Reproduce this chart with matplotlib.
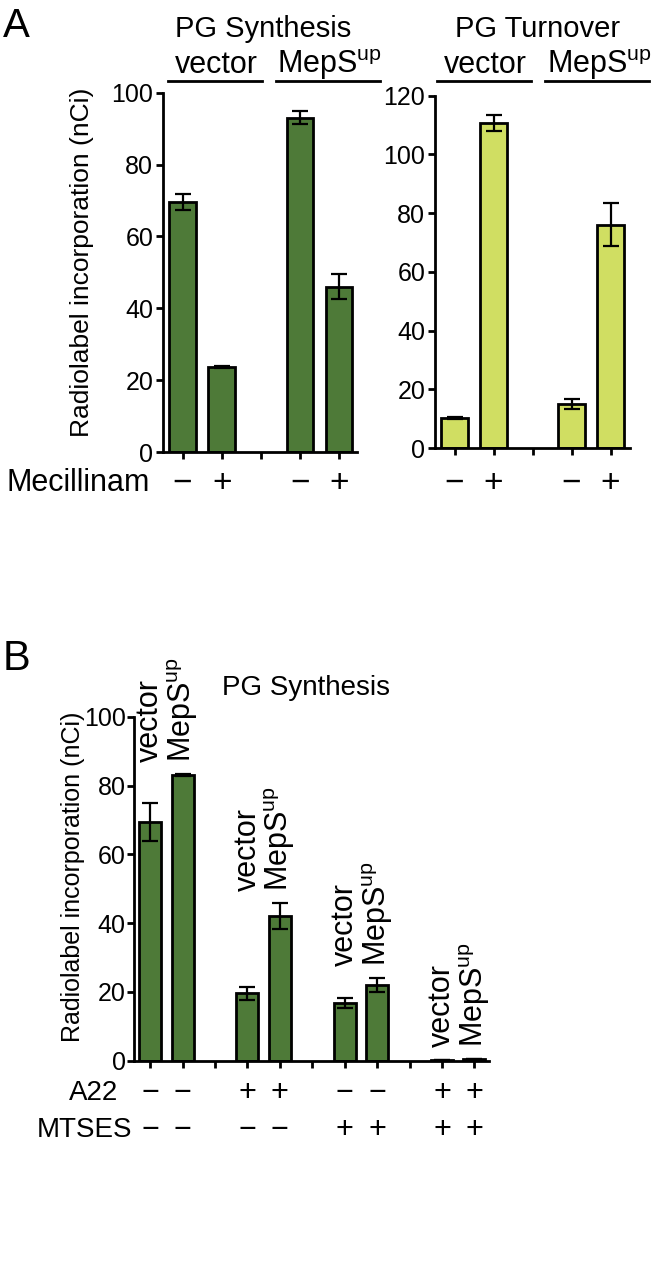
import matplotlib
matplotlib.use('Agg')
import matplotlib.pyplot as plt
from matplotlib.transforms import blended_transform_factory

plt.rcParams['font.family'] = 'Liberation Sans'
plt.rcParams['mathtext.fontset'] = 'custom'
plt.rcParams['mathtext.rm'] = 'Liberation Sans'
plt.rcParams['mathtext.default'] = 'regular'

# data
# panel A: positions 0,1 = vector (-/+ mecillinam), 3,4 = MepS-up (-/+)
a_pos = [0, 1, 3, 4]
synth_vals = [69.5, 23.7, 93.0, 46.0]
synth_err = [2.2, 0.2, 1.8, 3.5]
turn_vals = [10.2, 110.6, 15.1, 76.1]
turn_err = [0.3, 2.7, 1.7, 7.2]
mecillinam = ['\u2212', '+', '\u2212', '+']

# panel B
b_pos = [0, 1, 3, 4, 6, 7, 9, 10]
b_vals = [69.5, 83.1, 19.6, 42.1, 16.7, 22.0, 0.3, 0.6]
b_err = [5.5, 0.3, 1.9, 3.8, 1.5, 1.9, 0.0, 0.0]
a22 = ['\u2212', '\u2212', '+', '+', '\u2212', '\u2212', '+', '+']
mtses = ['\u2212', '\u2212', '\u2212', '\u2212', '+', '+', '+', '+']
strains = ['vector', 'MepS$^{up}$']

dark_green = '#4e7a38'
light_green = '#d0de62'

W, H = 656, 1268
fig = plt.figure(figsize=(W / 100, H / 100), dpi=100)


def fx(px):
    return px / W


def fy(py):
    return 1 - py / H


def style_axes(ax, ticks):
    for s in ['top', 'right']:
        ax.spines[s].set_visible(False)
    for s in ['left', 'bottom']:
        ax.spines[s].set_linewidth(2)
    ax.set_xticks(ticks)
    ax.set_xticklabels([])
    ax.tick_params(axis='both', width=2, length=5, labelsize=18, pad=2)


def bars(ax, pos, vals, err, color):
    ax.bar(pos, vals, width=0.68, color=color, edgecolor='black', linewidth=2, zorder=2)
    ax.errorbar(pos, vals, yerr=err, fmt='none', ecolor='black', elinewidth=1.6,
                capsize=6, capthick=1.6, zorder=3)


# ---- Panel A, synthesis
ax1 = fig.add_axes([fx(163), fy(452), fx(356.6 - 163), (452 - 92.7) / H])
bars(ax1, a_pos, synth_vals, synth_err, dark_green)
ax1.set_xlim(-0.5, 4.45)
ax1.set_ylim(0, 100)
ax1.set_yticks(range(0, 101, 20))
style_axes(ax1, range(5))

# ---- Panel A, turnover
ax2 = fig.add_axes([fx(435), fy(448), fx(630 - 435), (448 - 95.7) / H])
bars(ax2, a_pos, turn_vals, turn_err, light_green)
ax2.set_xlim(-0.5, 4.5)
ax2.set_ylim(0, 120)
ax2.set_yticks(range(0, 121, 20))
style_axes(ax2, range(5))

# headers for panel A
for ax, title, tx, centers, spans in [
        (ax1, 'PG Synthesis', 2.05, [0.86, 3.76], [(-0.38, 2.02), (2.38, 5.04)]),
        (ax2, 'PG Turnover', 2.12, [0.79, 3.72], [(-0.45, 1.96), (2.32, 4.99)])]:
    tr = blended_transform_factory(ax.transData, fig.transFigure)
    fig.text(tx, fy(37), title, transform=tr, ha='center', va='baseline', fontsize=21)
    for c, lab in zip(centers, strains):
        fig.text(c, fy(73), lab, transform=tr, ha='center', va='baseline', fontsize=22)
    for x0, x1 in spans:
        ax.plot([x0, x1], [fy(81), fy(81)], transform=tr, color='black', lw=2, clip_on=False)
    for p, s in zip(a_pos, mecillinam):
        fig.text(p, fy(483), s, transform=tr, ha='center', va='center', fontsize=24)

fig.text(fx(150), fy(483), 'Mecillinam', ha='right', va='center', fontsize=22)
fig.text(fx(82), fy(262), 'Radiolabel incorporation (nCi)', rotation=90,
         ha='center', va='center', fontsize=19)
fig.text(fx(3), fy(37), 'A', ha='left', va='baseline', fontsize=29)

# ---- Panel B
axb = fig.add_axes([fx(134), fy(1060.7), fx(489 - 134), (1060.7 - 716.7) / H])
bars(axb, b_pos, b_vals, b_err, dark_green)
axb.set_xlim(-0.5, 10.45)
axb.set_ylim(0, 100)
axb.set_yticks(range(0, 101, 20))
style_axes(axb, range(11))
axb.tick_params(axis='y', pad=1)
for lbl in axb.get_yticklabels():
    lbl.set_family(['Liberation Sans Narrow', 'Liberation Sans'])

for i in range(0, len(b_pos), 2):
    top = max(v + e for v, e in zip(b_vals[i:i + 2], b_err[i:i + 2])) + 3.5
    for j, lab in enumerate(strains):
        axb.text(b_pos[i + j], top, lab, rotation=90, ha='center', va='bottom',
                 fontsize=22, clip_on=False)

trb = blended_transform_factory(axb.transData, fig.transFigure)
fig.text(4.8, fy(695), 'PG Synthesis', transform=trb, ha='center', va='baseline', fontsize=20)
for p, s1, s2 in zip(b_pos, a22, mtses):
    fig.text(p, fy(1093), s1, transform=trb, ha='center', va='center', fontsize=22)
    fig.text(p, fy(1130), s2, transform=trb, ha='center', va='center', fontsize=22)
fig.text(fx(118), fy(1093), 'A22', ha='right', va='center', fontsize=20)
fig.text(fx(132), fy(1130), 'MTSES', ha='right', va='center', fontsize=20)
fig.text(fx(73), fy(877), 'Radiolabel incorporation (nCi)', rotation=90,
         ha='center', va='center', fontsize=18)
fig.text(fx(3), fy(670), 'B', ha='left', va='baseline', fontsize=30)

fig.savefig('out.png', dpi=100)
